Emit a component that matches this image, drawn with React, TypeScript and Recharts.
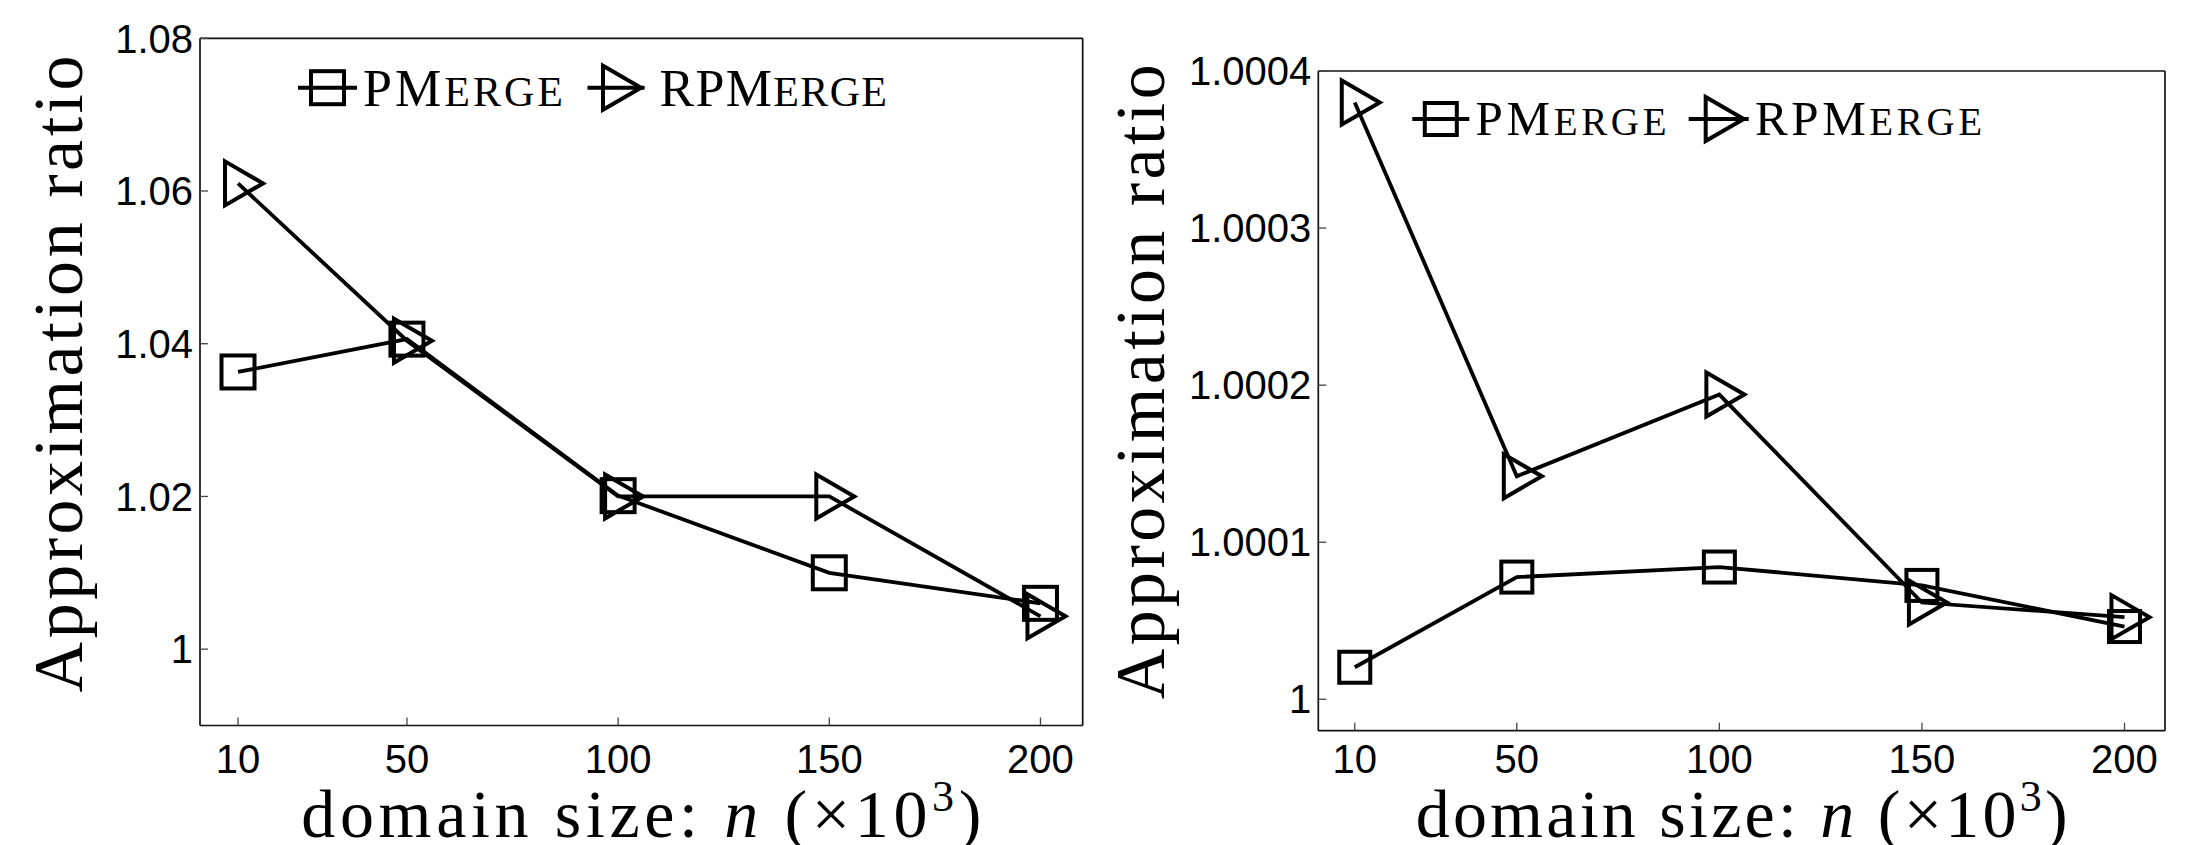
import React from "react";
import { LineChart, Line, XAxis, YAxis, Legend } from "recharts";

// domain size n (x10^3)
const domainSizes = [10, 50, 100, 150, 200];
const xTicks = [10, 50, 100, 150, 200];

// left panel
const leftPMerge = [1.0363, 1.0406, 1.0201, 1.01, 1.006];
const leftRPMerge = [1.061, 1.0404, 1.02, 1.02, 1.0043];
const leftYTicks = [1, 1.02, 1.04, 1.06, 1.08];

// right panel
const rightPMerge = [1.0000204, 1.0000778, 1.0000842, 1.0000725, 1.0000463];
const rightRPMerge = [1.00038, 1.000142, 1.000194, 1.0000616, 1.0000523];
const rightYTicks = [1, 1.0001, 1.0002, 1.0003, 1.0004];

const SANS = '"Liberation Sans", Arial, Helvetica, sans-serif';
const SERIF = '"Liberation Serif", "Times New Roman", serif';
const INK = "#000";

const axisLine = { stroke: "#111", strokeWidth: 1.7 };
const tickLine = { stroke: "#444", strokeWidth: 1.3 };
const tickFont = { fill: INK, fontSize: 40, fontFamily: SANS };

function toRows(p: number[], r: number[]) {
  return domainSizes.map((n, i) => ({ n, PMerge: p[i], RPMerge: r[i] }));
}

function Square({ cx, cy, half }: any) {
  if (cx == null || cy == null) return null;
  return (
    <rect
      x={cx - half}
      y={cy - half}
      width={half * 2}
      height={half * 2}
      fill="none"
      stroke={INK}
      strokeWidth={4}
    />
  );
}

function Triangle({ cx, cy }: any) {
  if (cx == null || cy == null) return null;
  return (
    <path
      d={`M${cx - 13},${cy - 22}L${cx + 25},${cy}L${cx - 13},${cy + 22}Z`}
      fill="none"
      stroke={INK}
      strokeWidth={4}
      strokeLinejoin="miter"
    />
  );
}

// lower-case letters are set as small capitals
function CapsText({ text, big, small }: { text: string; big: number; small: number }) {
  return (
    <>
      {text.split("").map((ch, i) =>
        ch === ch.toUpperCase() ? (
          <tspan key={i} fontSize={big}>{ch}</tspan>
        ) : (
          <tspan key={i} fontSize={small}>{ch.toUpperCase()}</tspan>
        )
      )}
    </>
  );
}

type Slot = { cx: number; half: number; textX: number; textLen: number };
type LegendCfg = {
  lineY: number;
  baseY: number;
  big: number;
  small: number;
  square: number;
  slots: Slot[];
};

function LegendBox({ payload, cfg, width }: any) {
  const c = cfg as LegendCfg;
  return (
    <svg width={width} height={170} style={{ display: "block", overflow: "visible" }}>
      {(payload || []).map((entry: any, i: number) => {
        const s = c.slots[i];
        const name = String(entry.value);
        return (
          <g key={name}>
            <line
              x1={s.cx - s.half}
              x2={s.cx + s.half}
              y1={c.lineY}
              y2={c.lineY}
              stroke={INK}
              strokeWidth={4}
            />
            {name === "PMerge" ? (
              <Square cx={s.cx} cy={c.lineY} half={c.square} />
            ) : (
              <Triangle cx={s.cx} cy={c.lineY} />
            )}
            <text
              x={s.textX}
              y={c.baseY}
              textLength={s.textLen}
              lengthAdjust="spacing"
              fontFamily={SERIF}
              fill={INK}
            >
              <CapsText text={name} big={c.big} small={c.small} />
            </text>
          </g>
        );
      })}
    </svg>
  );
}

function XTitle(props: any) {
  const { viewBox, baseline, len } = props;
  if (!viewBox) return null;
  const x0 = viewBox.x + viewBox.width / 2 - len / 2;
  const y = viewBox.y + baseline;
  return (
    <text
      x={x0}
      y={y}
      textLength={len}
      lengthAdjust="spacing"
      fontFamily={SERIF}
      fontSize={68}
      fill={INK}
    >
      {"domain size: "}
      <tspan fontStyle="italic">n</tspan>
      {" (×10"}
      <tspan dy={-26} fontSize={44}>3</tspan>
      <tspan dy={26}>)</tspan>
    </text>
  );
}

function YTitle(props: any) {
  const { viewBox, baseX, dy, len } = props;
  if (!viewBox) return null;
  const x = viewBox.x + baseX;
  const cy = viewBox.y + viewBox.height / 2 + dy;
  return (
    <text
      x={x - len / 2}
      y={cy}
      transform={`rotate(-90 ${x} ${cy})`}
      textLength={len}
      lengthAdjust="spacing"
      fontFamily={SERIF}
      fontSize={70}
      fill={INK}
    >
      Approximation ratio
    </text>
  );
}

type PanelProps = {
  rows: any[];
  width: number;
  height: number;
  top: number;
  right: number;
  yAxisW: number;
  xAxisH: number;
  xTickMargin: number;
  yDomain: [number, number];
  yTicks: number[];
  squareHalf: number;
  yTitle: { baseX: number; dy: number; len: number };
  xTitle: { baseline: number; len: number };
  legend: LegendCfg;
};

function Panel(p: PanelProps) {
  return (
    <LineChart
      width={p.width}
      height={p.height}
      data={p.rows}
      margin={{ top: p.top - 1, right: p.right - 1, left: 0, bottom: 0 }}
    >
      <XAxis
        dataKey="n"
        type="number"
        domain={[1, 210]}
        ticks={xTicks}
        interval={0}
        height={p.xAxisH}
        tickSize={-8}
        tickMargin={p.xTickMargin}
        tick={tickFont}
        axisLine={axisLine}
        tickLine={tickLine}
        label={<XTitle baseline={p.xTitle.baseline} len={p.xTitle.len} />}
      />
      <XAxis
        xAxisId="top"
        orientation="top"
        dataKey="n"
        type="number"
        domain={[1, 210]}
        ticks={xTicks}
        interval={0}
        height={1}
        tickSize={-8}
        tick={false}
        axisLine={axisLine}
        tickLine={tickLine}
      />
      <YAxis
        type="number"
        domain={p.yDomain}
        ticks={p.yTicks}
        interval={0}
        width={p.yAxisW}
        tickSize={-8}
        tickMargin={15}
        tick={tickFont}
        tickFormatter={(v: number) => String(v)}
        axisLine={axisLine}
        tickLine={tickLine}
        label={<YTitle baseX={p.yTitle.baseX} dy={p.yTitle.dy} len={p.yTitle.len} />}
      />
      <YAxis
        yAxisId="right"
        orientation="right"
        type="number"
        domain={p.yDomain}
        ticks={p.yTicks}
        interval={0}
        width={1}
        tickSize={-8}
        tick={false}
        axisLine={axisLine}
        tickLine={tickLine}
      />
      <Legend
        layout="horizontal"
        verticalAlign="middle"
        align="center"
        wrapperStyle={{ left: 0, top: 0, width: p.width, height: 170, margin: 0, padding: 0 }}
        content={(lp: any) => <LegendBox payload={lp.payload} cfg={p.legend} width={p.width} />}
      />
      <Line
        type="linear"
        dataKey="PMerge"
        name="PMerge"
        stroke={INK}
        strokeWidth={3.8}
        dot={({ key, ...rest }: any) => <Square key={key} {...rest} half={p.squareHalf} />}
        activeDot={false}
        isAnimationActive={false}
      />
      <Line
        type="linear"
        dataKey="RPMerge"
        name="RPMerge"
        stroke={INK}
        strokeWidth={3.8}
        dot={({ key, ...rest }: any) => <Triangle key={key} {...rest} />}
        activeDot={false}
        isAnimationActive={false}
      />
    </LineChart>
  );
}

export default function App() {
  return (
    <div
      style={{
        position: "absolute",
        left: 0,
        top: 0,
        width: 2193,
        height: 845,
        background: "#fff",
        overflow: "hidden",
      }}
    >
      <div style={{ position: "absolute", left: 0, top: 0 }}>
        <Panel
          rows={toRows(leftPMerge, leftRPMerge)}
          width={1100}
          height={845}
          top={38.3}
          right={17.3}
          yAxisW={200}
          xAxisH={119.5}
          xTickMargin={27.5}
          yDomain={[0.99, 1.08]}
          yTicks={leftYTicks}
          squareHalf={16.5}
          yTitle={{ baseX: 81.7, dy: -8, len: 637 }}
          xTitle={{ baseline: 111.2, len: 680 }}
          legend={{
            lineY: 87.7,
            baseY: 106,
            big: 52,
            small: 42,
            square: 16.5,
            slots: [
              { cx: 327.5, half: 29.5, textX: 363, textLen: 200 },
              { cx: 616, half: 28.5, textX: 659.5, textLen: 227.5 },
            ],
          }}
        />
      </div>
      <div style={{ position: "absolute", left: 1100, top: 0 }}>
        <Panel
          rows={toRows(rightPMerge, rightRPMerge)}
          width={1093}
          height={845}
          top={71}
          right={28}
          yAxisW={218.3}
          xAxisH={114.3}
          xTickMargin={22}
          yDomain={[0.99998, 1.0004]}
          yTicks={rightYTicks}
          squareHalf={15.5}
          yTitle={{ baseX: 63.6, dy: -19, len: 635 }}
          xTitle={{ baseline: 106, len: 652 }}
          legend={{
            lineY: 119,
            baseY: 135,
            big: 49,
            small: 39,
            square: 16,
            slots: [
              { cx: 340.8, half: 28.5, textX: 375.5, textLen: 191 },
              { cx: 618.7, half: 30, textX: 655, textLen: 227 },
            ],
          }}
        />
      </div>
    </div>
  );
}
